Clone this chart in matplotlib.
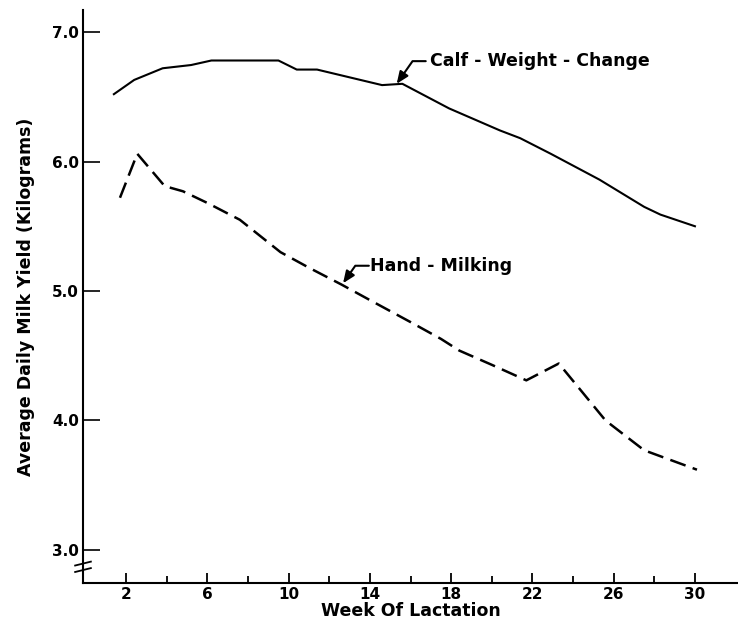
import matplotlib
matplotlib.use("Agg")
import matplotlib.pyplot as plt
from matplotlib.lines import Line2D

# Data
calf_weeks = [1.4, 2.4, 3.8, 5.2, 6.2, 8.3, 9.5, 10.4, 11.4, 12.2, 14.6, 15.6, 17.9, 20.4, 21.4, 22.9, 25.3, 27.5, 28.3, 30.0]
calf_yield = [6.52, 6.63, 6.72, 6.745, 6.78, 6.78, 6.78, 6.71, 6.71, 6.68, 6.59, 6.60, 6.41, 6.24, 6.18, 6.06, 5.86, 5.65, 5.59, 5.50]

hand_weeks = [1.7, 2.55, 3.9, 4.8, 6.0, 7.6, 9.6, 11.0, 12.6, 14.0, 16.0, 17.5, 18.4, 20.0, 21.7, 23.3, 25.6, 27.5, 30.1]
hand_yield = [5.72, 6.06, 5.81, 5.77, 5.68, 5.55, 5.30, 5.18, 5.05, 4.93, 4.76, 4.63, 4.54, 4.43, 4.31, 4.44, 4.00, 3.77, 3.62]

x_major = [2, 6, 10, 14, 18, 22, 26, 30]
x_minor = [4, 8, 12, 16, 20, 24, 28]
y_ticks = [3.0, 4.0, 5.0, 6.0, 7.0]
y_labels = ["3.0", "4.0", "5.0", "6.0", "7.0"]

calf_label = "Calf - Weight - Change"
hand_label = "Hand - Milking"
calf_tip = (15.32, 6.60)
calf_arrow_start = (16.75, 6.775)
calf_text_pos = (16.95, 6.775)
hand_tip = (12.68, 5.06)
hand_arrow_start = (13.95, 5.195)
hand_text_pos = (14.0, 5.195)

FONT = "DejaVu Sans"

fig = plt.figure(figsize=(7.38, 6.21), dpi=100)
ax = fig.add_axes([83/738, 38/621, 655/738, 573/621])
ax.set_xlim(-0.12, 32.12)
ax.set_ylim(2.745, 7.17)

ax.plot(calf_weeks, calf_yield, color="black", lw=1.5, solid_joinstyle="round")
ax.plot(hand_weeks, hand_yield, color="black", lw=1.8, linestyle=(0, (6.5, 3.0)))

for s in ["top", "right"]:
    ax.spines[s].set_visible(False)
for s in ["left", "bottom"]:
    ax.spines[s].set_linewidth(1.5)

ax.set_xticks(x_major)
ax.set_xticks(x_minor, minor=True)
ax.set_xticklabels([str(v) for v in x_major], fontsize=11, fontweight="bold", family=FONT)
ax.tick_params(axis="x", which="major", direction="in", length=7, width=1.3, pad=3)
ax.tick_params(axis="x", which="minor", direction="in", length=5, width=1.3)
ax.set_yticks(y_ticks)
ax.set_yticklabels(y_labels, fontsize=11, fontweight="bold", family=FONT)
ax.tick_params(axis="y", which="major", direction="in", length=12, width=1.2, pad=3)

ax.set_xlabel("Week Of Lactation", fontsize=12.5, fontweight="bold", family=FONT, labelpad=0)
ax.set_ylabel("Average Daily Milk Yield (Kilograms)", fontsize=12.5, fontweight="bold", family=FONT, labelpad=12)

# annotations
arrowprops = dict(arrowstyle="-|>,head_length=0.6,head_width=0.25", color="black", lw=1.5,
                  shrinkA=0, shrinkB=0, mutation_scale=12,
                  connectionstyle="angle,angleA=0,angleB=55,rad=0")
ax.annotate("", xy=calf_tip, xytext=calf_arrow_start, arrowprops=arrowprops)
ax.text(*calf_text_pos, calf_label, ha="left", va="center", fontsize=12.5, fontweight="bold", family=FONT)
ax.annotate("", xy=hand_tip, xytext=hand_arrow_start, arrowprops=arrowprops)
ax.text(*hand_text_pos, hand_label, ha="left", va="center", fontsize=12.5, fontweight="bold", family=FONT)

# axis break mark on the y axis
trans = ax.get_yaxis_transform()
ax.add_line(Line2D([-0.004, 0.004], [2.88, 2.88], transform=trans, color="white", lw=5, clip_on=False))
for yb in [2.845, 2.895]:
    ax.add_line(Line2D([-0.012, 0.012], [yb - 0.015, yb + 0.015], transform=trans,
                       color="black", lw=1.3, clip_on=False))

fig.savefig("out.png", dpi=100)
